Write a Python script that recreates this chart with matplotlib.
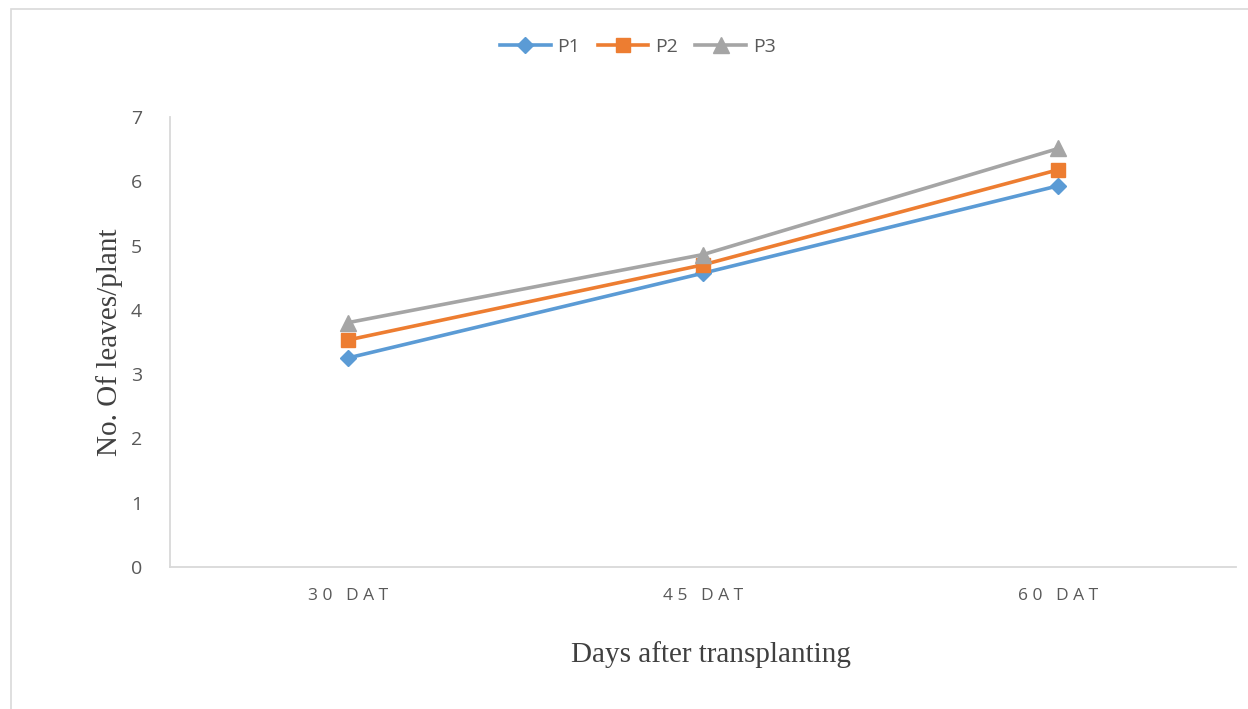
import matplotlib.pyplot as plt
from matplotlib.patches import Rectangle

# leaf counts per plant at each sampling date
days = ['30 DAT', '45 DAT', '60 DAT']
p1 = [3.25, 4.57, 5.93]
p2 = [3.53, 4.70, 6.18]
p3 = [3.80, 4.86, 6.51]

fig = plt.figure(figsize=(12.48, 7.09), dpi=100)
ax = fig.add_axes([0.1362, 0.2003, 0.8542, 0.6347])

# outer chart border (runs off the right and bottom edges)
fig.patches.append(Rectangle((0.0088, -0.05), 1.2, 0.037 + 1.0, transform=fig.transFigure,
                             fill=False, edgecolor='#d9d9d9', linewidth=1.2))

x = range(len(days))
ax.plot(x, p1, color='#5b9bd5', marker='D', markersize=8, linewidth=2.6, label='P1')
ax.plot(x, p2, color='#ed7d31', marker='s', markersize=10, linewidth=2.6, label='P2')
ax.plot(x, p3, color='#a5a5a5', marker='^', markersize=11, linewidth=2.6, label='P3')

ax.set_xlim(-0.5, 2.5)
ax.set_ylim(0, 7)
ax.set_yticks(range(8))
ax.set_xticks(list(x))
ax.set_xticklabels([' '.join(d) for d in days], fontfamily='Open Sans', fontsize=12.5, color='#595959')
for lab in ax.get_yticklabels():
    lab.set_fontfamily('Open Sans')
    lab.set_fontsize(14)
    lab.set_color('#595959')
ax.tick_params(length=0)
ax.tick_params(axis='y', pad=20)
ax.tick_params(axis='x', pad=15)

for s in ['top', 'right']:
    ax.spines[s].set_visible(False)
for s in ['left', 'bottom']:
    ax.spines[s].set_color('#d9d9d9')
    ax.spines[s].set_linewidth(1.3)

ax.set_ylabel('No. Of leaves/plant', fontfamily='Liberation Serif', fontsize=21, color='#404040', labelpad=6)
ax.set_xlabel('Days after transplanting', fontfamily='Liberation Serif', fontsize=21, color='#404040')
ax.xaxis.set_label_coords(0.5075, -0.165)

fig.legend(*ax.get_legend_handles_labels(), loc='center', bbox_to_anchor=(0.511, 0.934), ncol=3,
           frameon=False, prop={'family': 'Open Sans', 'size': 14}, handlelength=2.6,
           handletextpad=0.35, columnspacing=0.9, labelcolor='#595959')

fig.savefig('out.png', dpi=100)
